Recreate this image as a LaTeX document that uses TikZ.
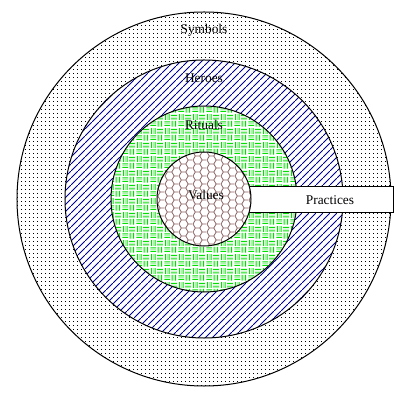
\documentclass[tikz,border=0pt]{standalone}
\usepackage{fontspec}
\setmainfont{Liberation Serif}
\usepackage{tikz}
\usetikzlibrary{patterns,patterns.meta}

\definecolor{heroblue}{RGB}{0,0,150}
\definecolor{valuebrown}{RGB}{140,100,100}
\definecolor{weavegreen}{RGB}{0,225,0}
\definecolor{weavepale}{RGB}{175,240,175}

% dotted fill of the outer ring
\tikzdeclarepattern{
  name=symdots,
  type=uncolored,
  bottom left={(0mm,0mm)},
  top right={(1mm,1mm)},
  tile size={(1mm,1mm)},
  code={\fill (0.35mm,0.35mm) rectangle (0.62mm,0.62mm);}
}
% diagonal hatching
\tikzdeclarepattern{
  name=herolines,
  type=uncolored,
  bottom left={(0mm,0mm)},
  top right={(1.8mm,1.8mm)},
  tile size={(1.8mm,1.8mm)},
  code={\draw[line width=0.2mm] (-0.2mm,-0.2mm) -- (2mm,2mm);}
}
% basket weave
\tikzdeclarepattern{
  name=weave,
  type=colored,
  bottom left={(0mm,0mm)},
  top right={(3.4mm,3.4mm)},
  tile size={(3.4mm,3.4mm)},
  code={
    \draw[weavepale, line width=0.25mm]
      (0.85mm,1.8mm) -- (0.85mm,3.3mm) (2.55mm,0.1mm) -- (2.55mm,1.6mm)
      (1.8mm,2.55mm) -- (3.3mm,2.55mm) (0.1mm,0.85mm) -- (1.6mm,0.85mm);
    \draw[weavegreen, line width=0.25mm]
      (0.4mm,1.8mm) -- (0.4mm,3.3mm) (1.3mm,1.8mm) -- (1.3mm,3.3mm)
      (2.1mm,0.1mm) -- (2.1mm,1.6mm) (3mm,0.1mm) -- (3mm,1.6mm)
      (1.8mm,2.1mm) -- (3.3mm,2.1mm) (1.8mm,3mm) -- (3.3mm,3mm)
      (0.1mm,0.4mm) -- (1.6mm,0.4mm) (0.1mm,1.3mm) -- (1.6mm,1.3mm);
  }
}
% hexagon mesh
\tikzdeclarepattern{
  name=hexgrid,
  type=uncolored,
  bottom left={(0mm,0mm)},
  top right={(3.45mm,1.992mm)},
  tile size={(3.45mm,1.992mm)},
  code={\draw[line width=0.2mm]
    (0mm,0.996mm) -- (0.575mm,0mm) -- (1.725mm,0mm) -- (2.3mm,0.996mm)
    -- (1.725mm,1.992mm) -- (0.575mm,1.992mm) -- cycle
    (2.3mm,0.996mm) -- (3.45mm,0.996mm);}
}

\begin{document}
\begin{tikzpicture}[
    x=0.25mm, y=-0.25mm,
    ring/.style={circle, draw, line width=0.25mm, inner sep=0pt, preaction={fill=white}},
    box/.style={rectangle, draw, fill=white, line width=0.25mm, inner sep=0pt},
    ringtext/.style={font=\fontsize{9.5}{11}\selectfont, inner sep=1pt}
]
\useasboundingbox (0,0) rectangle (405,403);
\coordinate (c) at (204,199);

\node[ring, minimum size=93.5mm, pattern=symdots] (symbols) at (c) {};
\node[ring, minimum size=69.5mm, pattern=herolines, pattern color=heroblue] (heroes) at (c) {};
\node[ring, minimum size=46.5mm, pattern=weave] (rituals) at (c) {};
\node[box, minimum width=36.5mm, minimum height=6.5mm] (practices) at (320,200) {};
\node[ring, minimum size=23.5mm, pattern=hexgrid, pattern color=valuebrown] (values) at (c) {};

\node[ringtext] (symtext) at (204,30) {Symbols};
\node[ringtext] (herotext) at (204,78) {Heroes};
\node[ringtext] (rittext) at (204,125) {Rituals};
\node[ringtext] (valtext) at (206,195) {Values};
\node[ringtext] (practext) at (330,200) {Practices};
\end{tikzpicture}
\end{document}
